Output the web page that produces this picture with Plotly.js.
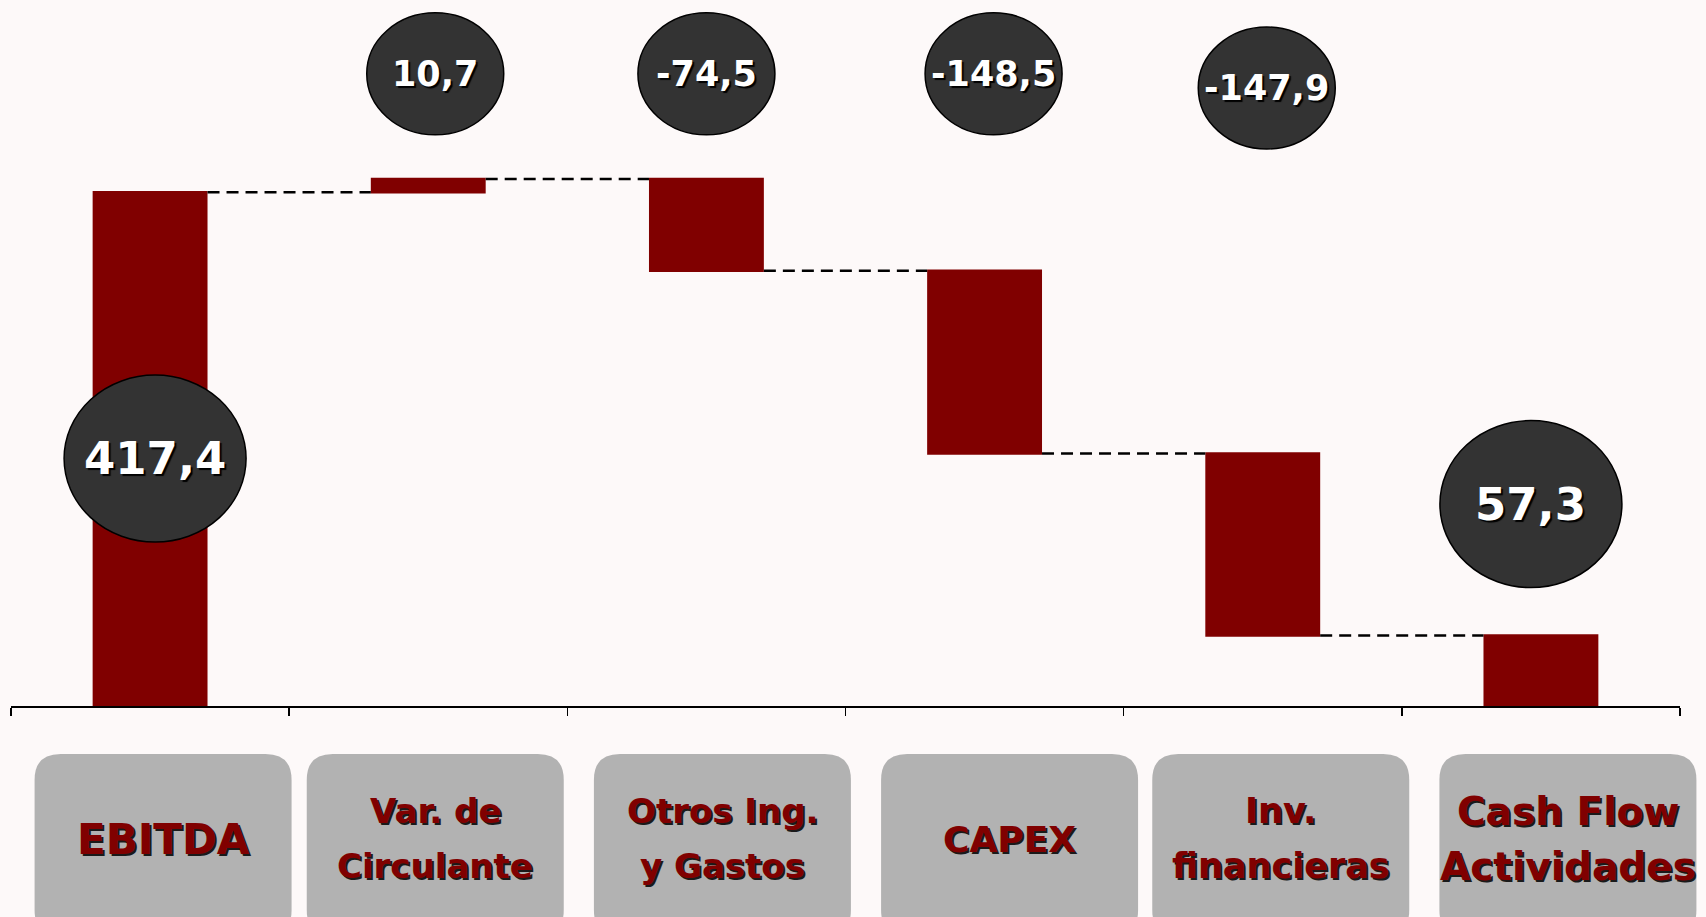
<!DOCTYPE html>
<html>
<head>
<meta charset="utf-8">
<script src="https://cdn.plot.ly/plotly-3.0.1.min.js"></script>
<style>
  html, body { margin: 0; padding: 0; background: #fdf9f9; }
  #chart { width: 1706px; height: 917px; }
</style>
</head>
<body>
<div id="chart"></div>
<script>
// Puente EBITDA -> Cash Flow de actividades
const categories = ["EBITDA", "Var. de<br>Circulante", "Otros Ing.<br>y Gastos", "CAPEX", "Inv.<br>financieras", "Cash Flow<br>Actividades"];
const measures = ["absolute", "relative", "relative", "relative", "relative", "total"];
const values = [417.4, 10.7, -74.5, -148.5, -147.9, 57.3];

// colocación de las burbujas y cajas (no son datos)
const bubbleY = [201, 513.5, 513.5, 513.5, 502, 164];
const bubbleDx = [5, 7, 0, 9, 4, -10];
const boxDx = [13, 7, 16, 25, 18, 27];
const labelSize = [42, 34, 34, 36, 35, 39];

const maroon = "#800000";
const bg = "#fdf9f9";
const n = categories.length;

function fmt(v) {
  return v.toFixed(1).replace(".", ",");
}

const trace = {
  type: "waterfall",
  x: categories,
  y: values,
  measure: measures,
  increasing: { marker: { color: maroon, line: { width: 0 } } },
  decreasing: { marker: { color: maroon, line: { width: 0 } } },
  totals: { marker: { color: maroon, line: { width: 0 } } },
  connector: { mode: "between", line: { color: "#000", width: 2.5, dash: "12px,7px" } },
  textinfo: "none",
  hoverinfo: "skip"
};

const shapes = [];
const annotations = [];

categories.forEach(function(cat, i) {
  // burbuja con el valor
  const big = measures[i] !== "relative";
  const rx = big ? 91 : 68.5;
  const ry = big ? 83.5 : 61;
  shapes.push({
    type: "circle", xref: "x", yref: "y",
    xsizemode: "pixel", ysizemode: "pixel",
    xanchor: i, yanchor: bubbleY[i],
    x0: bubbleDx[i] - rx, x1: bubbleDx[i] + rx,
    y0: -ry, y1: ry,
    fillcolor: "#333333",
    line: { color: "#000", width: 1.5 },
    layer: "above"
  });
  annotations.push({
    xref: "x", yref: "y", x: i, y: bubbleY[i], xshift: bubbleDx[i],
    xanchor: "center", yanchor: "middle",
    text: fmt(values[i]), showarrow: false,
    font: { family: "DejaVu Sans", size: big ? 45 : 35, color: "#fff", weight: "bold", shadow: "2px 2px 1px #000" }
  });

  // caja gris redondeada bajo el eje
  const cx = (i + 0.5) / n;
  const L = boxDx[i] - 128.5, R = boxDx[i] + 128.5, T = -48, B = -230, r = 26;
  shapes.push({
    type: "path", xref: "paper", yref: "paper",
    xsizemode: "pixel", ysizemode: "pixel",
    xanchor: cx, yanchor: 0,
    path: "M" + (L + r) + "," + T + " L" + (R - r) + "," + T +
          " Q" + R + "," + T + " " + R + "," + (T - r) +
          " L" + R + "," + (B + r) +
          " Q" + R + "," + B + " " + (R - r) + "," + B +
          " L" + (L + r) + "," + B +
          " Q" + L + "," + B + " " + L + "," + (B + r) +
          " L" + L + "," + (T - r) +
          " Q" + L + "," + T + " " + (L + r) + "," + T + " Z",
    fillcolor: "#b2b2b2",
    line: { width: 0 },
    layer: "above"
  });

  const lines = cat.split("<br>");
  const ys = lines.length === 1 ? [839] : [811, 866];
  lines.forEach(function(txt, k) {
    annotations.push({
      xref: "x", yref: "paper", x: i, y: 0,
      xanchor: "center", yanchor: "middle",
      xshift: boxDx[i], yshift: -(ys[k] - 706),
      text: txt, showarrow: false,
      font: { family: "DejaVu Sans", size: labelSize[i], color: maroon, weight: "bold", shadow: "2px 2px 0px #1a1a1a" }
    });
  });
});

const layout = {
  width: 1706,
  height: 917,
  margin: { l: 11, r: 26, t: 0, b: 211 },
  paper_bgcolor: bg,
  plot_bgcolor: bg,
  showlegend: false,
  waterfallgap: 0.587,
  xaxis: {
    type: "category",
    range: [-0.5, n - 0.5],
    showline: true, linecolor: "#000", linewidth: 1.5,
    ticks: "outside", tickson: "boundaries", ticklen: 8, tickcolor: "#000", tickwidth: 1.5,
    showticklabels: false, showgrid: false, zeroline: false
  },
  yaxis: { range: [0, 573.5], visible: false, showgrid: false, zeroline: false },
  shapes: shapes,
  annotations: annotations
};

Plotly.newPlot("chart", [trace], layout, { displayModeBar: false, staticPlot: true });
</script>
</body>
</html>
